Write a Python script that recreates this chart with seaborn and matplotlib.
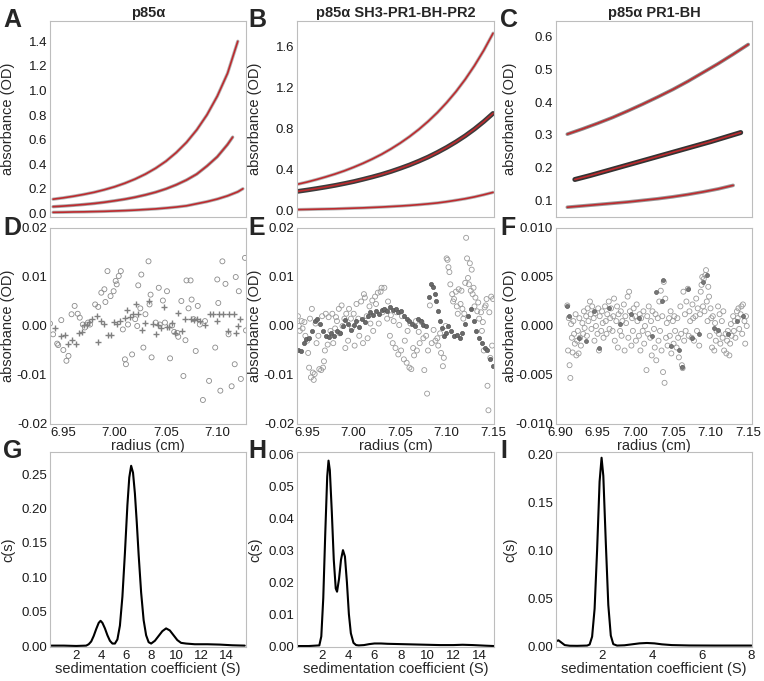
import matplotlib
matplotlib.use("Agg")
import matplotlib.pyplot as plt
from matplotlib.ticker import AutoMinorLocator, FormatStrFormatter
import seaborn as sns

# ---------------- top row: absorbance scans ----------------
# panel A (p85a)
r_a_top = [6.94, 6.95, 6.96, 6.97, 6.98, 6.99, 7.00, 7.01, 7.02, 7.03, 7.04, 7.05, 7.06, 7.07, 7.08, 7.09, 7.10, 7.11, 7.12]
a_top = [0.115, 0.126, 0.139, 0.154, 0.171, 0.192, 0.216, 0.245, 0.279, 0.319, 0.367, 0.424, 0.494, 0.577, 0.679, 0.802, 0.953, 1.139, 1.40]
r_a_mid = [6.94, 6.95, 6.96, 6.97, 6.98, 6.99, 7.00, 7.01, 7.02, 7.03, 7.04, 7.05, 7.06, 7.07, 7.08, 7.09, 7.10, 7.11, 7.115]
a_mid = [0.054, 0.059, 0.065, 0.072, 0.080, 0.090, 0.102, 0.115, 0.131, 0.150, 0.172, 0.199, 0.232, 0.271, 0.319, 0.385, 0.460, 0.560, 0.620]
r_a_bot = [6.94, 6.95, 6.96, 6.97, 6.98, 6.99, 7.00, 7.01, 7.02, 7.03, 7.04, 7.05, 7.06, 7.07, 7.08, 7.09, 7.10, 7.11, 7.12, 7.125]
a_bot = [0.008, 0.009, 0.011, 0.012, 0.014, 0.016, 0.019, 0.022, 0.026, 0.031, 0.036, 0.043, 0.051, 0.061, 0.078, 0.095, 0.116, 0.142, 0.175, 0.200]

# panel B (SH3-PR1-BH-PR2)
r_b = [6.94, 6.95, 6.96, 6.97, 6.98, 6.99, 7.00, 7.01, 7.02, 7.03, 7.04, 7.05, 7.06, 7.07, 7.08, 7.09, 7.10, 7.11, 7.12, 7.13, 7.14, 7.15]
b_top = [0.260, 0.281, 0.305, 0.331, 0.359, 0.390, 0.425, 0.463, 0.505, 0.551, 0.603, 0.660, 0.723, 0.793, 0.871, 0.957, 1.054, 1.161, 1.281, 1.415, 1.564, 1.731]
b_mid = [0.190, 0.203, 0.217, 0.232, 0.248, 0.266, 0.285, 0.307, 0.330, 0.355, 0.383, 0.414, 0.447, 0.484, 0.524, 0.569, 0.618, 0.672, 0.731, 0.797, 0.870, 0.950]
b_bot = [0.012, 0.014, 0.016, 0.018, 0.020, 0.023, 0.026, 0.029, 0.033, 0.037, 0.042, 0.047, 0.053, 0.060, 0.068, 0.077, 0.089, 0.103, 0.118, 0.136, 0.157, 0.180]

# panel C (PR1-BH)
r_c_top = [6.91, 6.93, 6.95, 6.97, 6.99, 7.01, 7.03, 7.05, 7.07, 7.09, 7.11, 7.13, 7.15]
c_top = [0.302, 0.318, 0.335, 0.353, 0.373, 0.394, 0.416, 0.439, 0.464, 0.491, 0.518, 0.547, 0.577]
r_c_mid = [6.92, 6.94, 6.96, 6.98, 7.00, 7.02, 7.04, 7.06, 7.08, 7.10, 7.12, 7.14]
c_mid = [0.163, 0.175, 0.188, 0.201, 0.214, 0.227, 0.240, 0.253, 0.266, 0.279, 0.293, 0.307]
r_c_bot = [6.91, 6.93, 6.95, 6.97, 6.99, 7.01, 7.03, 7.05, 7.07, 7.09, 7.11, 7.13]
c_bot = [0.078, 0.082, 0.086, 0.090, 0.094, 0.099, 0.104, 0.110, 0.117, 0.125, 0.134, 0.145]

# ---------------- middle row: residuals (radius, OD) ----------------
d_circles = [(6.937, 0.0005), (6.940, -0.0017), (6.944, -0.0036), (6.945, -0.0039), (6.948, 0.0012),
             (6.950, -0.0049), (6.953, -0.0071), (6.955, -0.0061), (6.958, 0.0024), (6.961, 0.0041),
             (6.964, 0.0025), (6.966, 0.0017), (6.969, 0.0003), (6.971, -0.0003), (6.974, 0.0007),
             (6.976, 0.0003), (6.981, 0.0044), (6.984, 0.0039), (6.987, 0.0068), (6.990, 0.0075),
             (6.991, 0.0049), (6.993, 0.0112), (6.996, 0.0061), (6.999, 0.0071), (7.001, 0.0092),
             (7.002, 0.0085), (7.004, 0.0102), (7.006, 0.0112), (7.008, -0.0007), (7.010, -0.0068),
             (7.011, -0.0078), (7.013, 0.0003), (7.017, -0.0058), (7.020, 0.0014), (7.022, 0.0),
             (7.023, 0.0083), (7.025, 0.0036), (7.026, 0.0105), (7.028, -0.0044), (7.030, 0.0024),
             (7.033, 0.0132), (7.034, 0.0044), (7.035, 0.0064), (7.036, -0.0064), (7.040, 0.0007),
             (7.043, 0.0078), (7.044, 0.0003), (7.047, 0.0052), (7.049, 0.0007), (7.051, 0.0071),
             (7.054, -0.0066), (7.056, 0.0001), (7.058, -0.0012), (7.061, -0.0014), (7.062, -0.0022),
             (7.065, 0.0051), (7.067, -0.0102), (7.069, -0.0029), (7.070, 0.0093), (7.072, 0.0036),
             (7.074, 0.0093), (7.075, 0.0054), (7.077, 0.0014), (7.079, -0.0051), (7.081, 0.0041),
             (7.083, 0.0003), (7.086, -0.0151), (7.088, 0.0010), (7.092, -0.0112), (7.098, -0.0044),
             (7.100, 0.0095), (7.101, 0.0047), (7.103, -0.0132), (7.105, 0.0132), (7.108, 0.0086),
             (7.111, -0.0017), (7.114, -0.0123), (7.117, -0.0078), (7.118, 0.0100), (7.121, 0.0071),
             (7.123, -0.0108), (7.127, 0.0139), (7.128, -0.0009)]
d_plus = [(6.942, -0.0005), (6.948, -0.0020), (6.952, -0.0018), (6.955, -0.0037), (6.958, -0.0029),
          (6.962, -0.0036), (6.965, -0.0015), (6.968, -0.0012), (6.970, 0.0003), (6.973, 0.0003),
          (6.975, 0.0008), (6.978, 0.0015), (6.983, 0.0020), (6.984, -0.0032), (6.987, 0.0010),
          (6.990, 0.0005), (6.994, -0.0018), (6.996, -0.0018), (6.999, 0.0009), (7.002, 0.0005),
          (7.005, 0.0010), (7.010, 0.0016), (7.012, 0.0032), (7.015, 0.0018), (7.018, 0.0025),
          (7.021, 0.0044), (7.023, 0.0025), (7.027, -0.0009), (7.030, 0.0006), (7.033, 0.0051),
          (7.037, 0.0005), (7.040, -0.0017), (7.042, 0.0003), (7.045, -0.0005), (7.048, 0.0039),
          (7.051, -0.0003), (7.053, -0.0003), (7.056, 0.0007), (7.059, -0.0014), (7.062, 0.0027),
          (7.066, -0.0010), (7.069, 0.0014), (7.074, 0.0014), (7.077, 0.0012), (7.080, 0.0014),
          (7.083, 0.0010), (7.088, 0.0003), (7.093, 0.0024), (7.096, 0.0024), (7.100, 0.0010),
          (7.102, 0.0024), (7.106, 0.0025), (7.110, -0.0010), (7.111, 0.0024), (7.116, 0.0024),
          (7.118, -0.0014), (7.120, 0.0), (7.122, 0.0014)]

e_dark = [(6.940, -0.0050), (6.943, -0.0052), (6.946, -0.0035), (6.949, -0.0027), (6.952, -0.0025),
          (6.955, -0.0010), (6.958, 0.0010), (6.961, 0.0015), (6.964, 0.0005), (6.967, -0.0010),
          (6.970, -0.0020), (6.973, -0.0022), (6.976, -0.0015), (6.979, -0.0020), (6.982, -0.0010),
          (6.985, -0.0015), (6.988, 0.0000), (6.991, 0.0012), (6.994, 0.0005), (6.997, -0.0008),
          (7.000, 0.0002), (7.003, 0.0010), (7.006, -0.0003), (7.009, 0.0015), (7.012, 0.0008),
          (7.015, 0.0020), (7.018, 0.0028), (7.021, 0.0022), (7.024, 0.0030), (7.027, 0.0025),
          (7.030, 0.0033), (7.033, 0.0035), (7.036, 0.0030), (7.039, 0.0038), (7.042, 0.0032),
          (7.045, 0.0035), (7.048, 0.0028), (7.051, 0.0030), (7.054, 0.0020), (7.057, 0.0015),
          (7.060, 0.0010), (7.063, 0.0005), (7.066, 0.0000), (7.069, 0.0015), (7.072, 0.0010),
          (7.075, 0.0002), (7.078, 0.0000), (7.081, 0.0060), (7.083, 0.0085), (7.085, 0.0080),
          (7.087, 0.0065), (7.089, 0.0050), (7.091, 0.0030), (7.093, 0.0010), (7.095, -0.0005),
          (7.097, -0.0020), (7.099, -0.0015), (7.102, 0.0000), (7.105, -0.0010), (7.108, -0.0020),
          (7.111, -0.0018), (7.114, -0.0025), (7.117, -0.0015), (7.120, 0.0005), (7.123, 0.0020),
          (7.126, 0.0035), (7.129, 0.0010), (7.132, -0.0010), (7.135, -0.0025), (7.138, -0.0035),
          (7.141, -0.0045), (7.144, -0.0050), (7.147, -0.0068), (7.150, -0.0082)]
e_open = [(6.940, 0.0020), (6.941, 0.0000), (6.942, -0.0010), (6.944, 0.0010), (6.945, -0.0005),
          (6.947, 0.0008), (6.948, -0.0020), (6.950, -0.0030), (6.951, -0.0055), (6.952, -0.0085),
          (6.953, 0.0015), (6.954, -0.0105), (6.955, 0.0035), (6.956, -0.0095), (6.957, -0.0110),
          (6.958, -0.0098), (6.959, 0.0005), (6.960, -0.0035), (6.962, -0.0020), (6.963, -0.0088),
          (6.965, -0.0090), (6.966, 0.0020), (6.967, -0.0085), (6.968, -0.0072), (6.969, -0.0050),
          (6.970, 0.0025), (6.972, -0.0038), (6.973, 0.0018), (6.975, -0.0010), (6.977, 0.0025),
          (6.978, -0.0035), (6.980, -0.0005), (6.981, 0.0018), (6.982, 0.0010), (6.984, 0.0035),
          (6.985, -0.0015), (6.987, 0.0042), (6.988, 0.0000), (6.990, 0.0015), (6.991, -0.0045),
          (6.992, 0.0025), (6.994, -0.0030), (6.995, 0.0035), (6.997, 0.0015), (6.998, -0.0005),
          (7.000, 0.0025), (7.001, -0.0040), (7.003, 0.0045), (7.005, 0.0015), (7.006, -0.0020),
          (7.008, 0.0050), (7.010, -0.0035), (7.011, 0.0065), (7.012, 0.0058), (7.014, 0.0020),
          (7.015, -0.0025), (7.017, 0.0040), (7.018, 0.0005), (7.020, 0.0052), (7.021, -0.0010),
          (7.023, 0.0060), (7.024, 0.0045), (7.026, 0.0068), (7.027, 0.0005), (7.029, 0.0070),
          (7.030, 0.0078), (7.031, 0.0028), (7.033, 0.0078), (7.034, 0.0032), (7.036, 0.0015),
          (7.037, 0.0050), (7.039, -0.0020), (7.040, 0.0022), (7.042, -0.0035), (7.043, 0.0010),
          (7.045, -0.0045), (7.046, 0.0028), (7.048, -0.0058), (7.049, 0.0002), (7.051, -0.0050),
          (7.052, 0.0020), (7.054, -0.0068), (7.055, -0.0030), (7.057, -0.0075), (7.058, -0.0010),
          (7.060, -0.0085), (7.061, 0.0005), (7.062, -0.0088), (7.064, -0.0045), (7.065, -0.0060),
          (7.067, 0.0010), (7.068, -0.0050), (7.070, -0.0012), (7.071, -0.0035), (7.073, 0.0008),
          (7.075, -0.0025), (7.076, -0.0090), (7.078, -0.0020), (7.079, -0.0138), (7.080, -0.0050),
          (7.082, 0.0042), (7.084, -0.0035), (7.086, -0.0008), (7.088, -0.0030), (7.090, -0.0025),
          (7.091, -0.0040), (7.093, -0.0015), (7.094, -0.0055), (7.096, -0.0082), (7.097, -0.0065),
          (7.099, 0.0000), (7.100, 0.0138), (7.101, 0.0135), (7.102, 0.0120), (7.103, 0.0110),
          (7.104, 0.0085), (7.106, 0.0065), (7.107, 0.0050), (7.108, 0.0055), (7.110, 0.0070),
          (7.111, 0.0040), (7.112, 0.0025), (7.113, 0.0075), (7.115, 0.0045), (7.116, 0.0072),
          (7.117, 0.0035), (7.118, 0.0015), (7.119, 0.0025), (7.120, 0.0088), (7.121, 0.0180),
          (7.122, 0.0138), (7.123, 0.0098), (7.124, 0.0085), (7.125, 0.0128), (7.126, 0.0072),
          (7.127, 0.0115), (7.128, 0.0065), (7.129, 0.0078), (7.130, 0.0040), (7.131, 0.0058),
          (7.133, 0.0030), (7.134, 0.0048), (7.135, 0.0015), (7.137, 0.0028), (7.138, -0.0010),
          (7.139, 0.0008), (7.140, -0.0050), (7.141, 0.0038), (7.142, 0.0042), (7.143, 0.0055),
          (7.144, -0.0122), (7.145, -0.0172), (7.146, 0.0028), (7.147, -0.0065), (7.148, 0.0060),
          (7.149, -0.0040), (7.150, 0.0055)]

f_open = [(6.910, 0.0021), (6.911, -0.0025), (6.912, 0.0008), (6.913, -0.0040), (6.914, -0.0053),
          (6.915, 0.0002), (6.916, -0.0012), (6.917, -0.0027), (6.918, 0.0005), (6.919, -0.0008),
          (6.920, -0.0018), (6.921, 0.0012), (6.922, -0.0030), (6.923, -0.0015), (6.924, -0.0005),
          (6.925, -0.0028), (6.926, 0.0008), (6.927, -0.0012), (6.928, -0.0020), (6.930, 0.0003),
          (6.931, -0.0008), (6.932, 0.0015), (6.933, -0.0002), (6.935, 0.0010), (6.936, -0.0010),
          (6.937, 0.0018), (6.938, 0.0005), (6.940, 0.0025), (6.941, 0.0012), (6.942, -0.0003),
          (6.943, 0.0020), (6.945, 0.0008), (6.946, -0.0015), (6.947, 0.0013), (6.948, 0.0000),
          (6.950, -0.0008), (6.951, 0.0018), (6.952, -0.0025), (6.953, 0.0010), (6.955, -0.0005),
          (6.956, 0.0015), (6.957, 0.0003), (6.958, -0.0012), (6.960, 0.0020), (6.961, 0.0005),
          (6.962, -0.0008), (6.963, 0.0012), (6.965, 0.0025), (6.966, -0.0003), (6.967, 0.0008),
          (6.968, 0.0018), (6.970, -0.0005), (6.971, 0.0010), (6.972, 0.0028), (6.973, -0.0015),
          (6.975, 0.0005), (6.976, 0.0020), (6.977, -0.0022), (6.978, 0.0012), (6.980, -0.0005),
          (6.981, 0.0015), (6.982, -0.0010), (6.983, 0.0005), (6.985, 0.0022), (6.986, -0.0025),
          (6.987, 0.0010), (6.988, 0.0003), (6.990, 0.0030), (6.991, -0.0012), (6.992, 0.0035),
          (6.993, 0.0015), (6.995, -0.0020), (6.996, 0.0008), (6.997, -0.0005), (6.998, 0.0018),
          (7.000, 0.0010), (7.001, -0.0015), (7.002, 0.0022), (7.003, 0.0005), (7.005, -0.0010),
          (7.006, 0.0012), (7.007, -0.0025), (7.008, 0.0008), (7.010, -0.0005), (7.011, 0.0015),
          (7.012, -0.0018), (7.013, 0.0000), (7.015, -0.0045), (7.016, 0.0010), (7.017, -0.0008),
          (7.018, 0.0020), (7.020, -0.0012), (7.021, 0.0005), (7.022, -0.0030), (7.023, 0.0015),
          (7.025, -0.0003), (7.026, -0.0022), (7.027, 0.0012), (7.028, -0.0035), (7.030, 0.0008),
          (7.031, -0.0015), (7.032, 0.0025), (7.033, -0.0005), (7.034, 0.0036), (7.035, -0.0025),
          (7.036, 0.0010), (7.037, -0.0047), (7.038, 0.0045), (7.039, -0.0058), (7.040, 0.0028),
          (7.041, -0.0012), (7.042, 0.0003), (7.043, -0.0020), (7.045, 0.0008), (7.046, -0.0010),
          (7.047, 0.0015), (7.048, -0.0028), (7.050, 0.0005), (7.051, -0.0018), (7.052, 0.0010),
          (7.053, -0.0005), (7.055, -0.0022), (7.056, 0.0008), (7.057, -0.0012), (7.058, -0.0032),
          (7.060, 0.0020), (7.061, -0.0008), (7.062, -0.0040), (7.063, -0.0043), (7.064, 0.0035),
          (7.065, -0.0015), (7.066, 0.0012), (7.067, -0.0005), (7.068, 0.0025), (7.070, 0.0038),
          (7.071, -0.0010), (7.072, 0.0015), (7.073, 0.0005), (7.075, -0.0012), (7.076, 0.0022),
          (7.077, 0.0008), (7.078, -0.0015), (7.080, 0.0010), (7.081, 0.0028), (7.082, -0.0005),
          (7.083, 0.0018), (7.085, -0.0020), (7.086, 0.0012), (7.087, 0.0035), (7.088, 0.0042),
          (7.089, 0.0050), (7.090, 0.0020), (7.091, 0.0048), (7.092, 0.0015), (7.093, 0.0052),
          (7.094, 0.0057), (7.095, 0.0025), (7.096, 0.0005), (7.097, 0.0040), (7.098, 0.0030),
          (7.099, -0.0010), (7.100, 0.0018), (7.101, 0.0008), (7.102, -0.0022), (7.103, 0.0010),
          (7.105, -0.0025), (7.106, 0.0003), (7.107, -0.0015), (7.108, -0.0005), (7.110, 0.0020),
          (7.111, -0.0008), (7.112, 0.0012), (7.113, -0.0018), (7.115, 0.0005), (7.116, -0.0012),
          (7.117, 0.0015), (7.118, -0.0025), (7.120, -0.0008), (7.121, -0.0028), (7.122, -0.0015),
          (7.123, -0.0005), (7.125, -0.0030), (7.126, -0.0018), (7.127, 0.0002), (7.128, -0.0010),
          (7.130, 0.0010), (7.131, -0.0005), (7.132, 0.0005), (7.133, -0.0012), (7.135, 0.0015),
          (7.136, 0.0008), (7.137, 0.0018), (7.138, -0.0003), (7.140, 0.0012), (7.141, 0.0020),
          (7.142, -0.0008), (7.143, 0.0022), (7.145, 0.0005), (7.146, -0.0018), (7.147, 0.0010),
          (7.148, 0.0000)]
f_dark = [(6.910, 0.0020), (6.912, 0.0010), (6.925, -0.0012), (6.935, -0.0015), (6.945, 0.0015),
          (6.952, -0.0022), (6.965, 0.0018), (6.980, 0.0002), (6.995, 0.0012), (7.005, 0.0008),
          (7.022, -0.0010), (7.027, 0.0035), (7.035, 0.0025), (7.037, 0.0047), (7.048, -0.0020),
          (7.058, -0.0025), (7.062, -0.0042), (7.070, 0.0038), (7.075, -0.0012), (7.085, -0.0008),
          (7.090, 0.0045), (7.095, 0.0052), (7.105, -0.0002), (7.110, -0.0004), (7.123, -0.0008),
          (7.135, 0.0005), (7.143, 0.0010)]

# ---------------- bottom row: c(s) distributions ----------------
s_g = [0.0, 1.0, 2.0, 2.8, 3.0, 3.2, 3.4, 3.6, 3.8, 3.95, 4.1, 4.3, 4.5, 4.7, 4.9, 5.1, 5.3, 5.5, 5.7, 5.9,
       6.1, 6.25, 6.4, 6.55, 6.7, 6.85, 7.0, 7.2, 7.4, 7.6, 7.8, 8.0, 8.3, 8.6, 8.9, 9.2, 9.5, 9.8, 10.1,
       10.4, 10.8, 11.5, 12.5, 13.5, 14.5, 15.5]
c_g = [0.001, 0.001, 0.0005, 0.001, 0.003, 0.007, 0.015, 0.025, 0.034, 0.037, 0.034, 0.026, 0.016, 0.008,
       0.004, 0.004, 0.010, 0.030, 0.072, 0.135, 0.205, 0.245, 0.262, 0.252, 0.222, 0.180, 0.133, 0.078,
       0.038, 0.016, 0.006, 0.004, 0.008, 0.015, 0.022, 0.026, 0.023, 0.016, 0.009, 0.005, 0.004, 0.003,
       0.003, 0.0025, 0.0015, 0.001]
s_h = [0.1, 1.0, 1.8, 1.95, 2.1, 2.25, 2.4, 2.5, 2.6, 2.75, 2.9, 3.05, 3.15, 3.3, 3.45, 3.6, 3.75, 3.9,
       4.05, 4.2, 4.4, 4.6, 4.8, 5.2, 5.6, 6.0, 6.5, 7.0, 8.0, 9.0, 10.0, 11.0, 12.0, 12.7, 13.5, 14.5, 15.1]
c_h = [0.0, 0.0, 0.0002, 0.003, 0.015, 0.035, 0.053, 0.058, 0.055, 0.042, 0.027, 0.018, 0.017, 0.021,
       0.027, 0.030, 0.028, 0.020, 0.010, 0.004, 0.001, 0.0003, 0.0002, 0.0003, 0.0006, 0.0008, 0.0008,
       0.0007, 0.0006, 0.0005, 0.0004, 0.0003, 0.0003, 0.0004, 0.0003, 0.0001, 0.0]
s_i = [0.15, 0.25, 0.35, 0.5, 0.7, 1.0, 1.4, 1.5, 1.6, 1.7, 1.8, 1.9, 1.98, 2.05, 2.15, 2.25, 2.35, 2.45,
       2.6, 2.9, 3.2, 3.5, 3.8, 4.1, 4.4, 4.8, 5.5, 6.5, 8.0]
c_i = [0.005, 0.006, 0.004, 0.001, 0.0003, 0.0002, 0.0005, 0.0016, 0.0098, 0.039, 0.100, 0.172, 0.197,
       0.178, 0.108, 0.043, 0.011, 0.002, 0.0005, 0.0008, 0.0018, 0.0028, 0.0032, 0.0028, 0.0018, 0.001,
       0.0006, 0.0005, 0.0005]

titles = ["p85α", "p85α SH3-PR1-BH-PR2", "p85α PR1-BH"]
letters = ["A", "B", "C", "D", "E", "F", "G", "H", "I"]

# tick values per panel
xt_d = [6.95, 7.00, 7.05, 7.10]
xt_e = [6.95, 7.00, 7.05, 7.10, 7.15]
xt_f = [6.90, 6.95, 7.00, 7.05, 7.10, 7.15]
xt_s = [2, 4, 6, 8, 10, 12, 14]
xt_i = [2, 4, 6, 8]
yt_a = [0.0, 0.2, 0.4, 0.6, 0.8, 1.0, 1.2, 1.4]
yt_b = [0.0, 0.4, 0.8, 1.2, 1.6]
yt_c = [0.1, 0.2, 0.3, 0.4, 0.5, 0.6]
yt_res = [-0.02, -0.01, 0.00, 0.01, 0.02]
yt_f = [-0.010, -0.005, 0.000, 0.005, 0.010]
yt_g = [0.00, 0.05, 0.10, 0.15, 0.20, 0.25]
yt_h = [0.00, 0.01, 0.02, 0.03, 0.04, 0.05, 0.06]
yt_i = [0.00, 0.05, 0.10, 0.15, 0.20]

sns.set_style("white")
plt.rcParams['font.family'] = ['Liberation Sans', 'DejaVu Sans']
plt.rcParams['axes.unicode_minus'] = False

W, H = 764, 681
fig = plt.figure(figsize=(W / 100, H / 100), dpi=100)

col_x = [(50, 196), (297, 197), (556, 196)]
row_y = [(21, 196), (228, 196), (452, 195)]
frame = '#bdbdbd'
red = '#bd2a2e'


def add_ax(c, r):
    x0, w = col_x[c]
    y0, h = row_y[r]
    return fig.add_axes([x0 / W, 1 - (y0 + h) / H, w / W, h / H])


def style(ax, xlim, ylim, xticks, yticks, xfmt, yfmt, show_x=True):
    ax.set_xlim(xlim)
    ax.set_ylim(ylim)
    ax.set_xticks(xticks)
    ax.set_yticks(yticks)
    ax.xaxis.set_minor_locator(AutoMinorLocator(2))
    ax.yaxis.set_minor_locator(AutoMinorLocator(2))
    ax.xaxis.set_major_formatter(FormatStrFormatter(xfmt))
    ax.yaxis.set_major_formatter(FormatStrFormatter(yfmt))
    for sp in ax.spines.values():
        sp.set_color(frame)
        sp.set_linewidth(0.8)
    ax.tick_params(which='both', direction='in', color=frame, labelsize=9.5,
                   labelcolor='#1a1a1a', pad=2)
    ax.tick_params(which='major', length=4)
    ax.tick_params(which='minor', length=2)
    if not show_x:
        ax.tick_params(axis='x', labelbottom=False)
    ax.set_xlabel('')
    ax.set_ylabel('')


def scan(ax, r, v, band, band_w):
    # dense data points drawn as a grey band, fitted curve in red on top
    sns.lineplot(x=r, y=v, ax=ax, color=band, lw=band_w, estimator=None, sort=False)
    sns.lineplot(x=r, y=v, ax=ax, color=red, lw=1.2, estimator=None, sort=False)


def unzip(pairs):
    return [p[0] for p in pairs], [p[1] for p in pairs]


ylab_x = [-0.179, -0.178, -0.199]

# ---- top row ----
ax = add_ax(0, 0)
scan(ax, r_a_top, a_top, '#b5b5b5', 2.4)
scan(ax, r_a_mid, a_mid, '#a8a8a8', 2.4)
scan(ax, r_a_bot, a_bot, '#b5b5b5', 2.4)
style(ax, (6.937, 7.128), (-0.03, 1.565), xt_d, yt_a, '%.2f', '%.1f', False)

ax = add_ax(1, 0)
scan(ax, r_b, b_top, '#b8b8b8', 2.4)
scan(ax, r_b, b_mid, '#3c3c3c', 3.4)
scan(ax, r_b, b_bot, '#b8b8b8', 2.4)
style(ax, (6.939, 7.151), (-0.06, 1.85), xt_e, yt_b, '%.2f', '%.1f', False)

ax = add_ax(2, 0)
scan(ax, r_c_top, c_top, '#8c8c8c', 2.6)
scan(ax, r_c_mid, c_mid, '#333333', 3.6)
scan(ax, r_c_bot, c_bot, '#9a9a9a', 2.6)
style(ax, (6.895, 7.155), (0.048, 0.649), xt_f, yt_c, '%.2f', '%.1f', False)

top_axes = fig.axes[:3]
for i, ax in enumerate(top_axes):
    ax.set_title(titles[i], fontsize=10.5, fontweight='bold', pad=3)
    ax.set_ylabel('absorbance (OD)', fontsize=10.5)
    ax.yaxis.set_label_coords(ylab_x[i], 0.5)

# ---- residual row ----
open_kw = dict(facecolor='none', s=13, linewidth=0.6)
ax = add_ax(0, 1)
x, y = unzip(d_circles)
sns.scatterplot(x=x, y=y, ax=ax, marker='o', edgecolor='#8a8a8a', **open_kw)
x, y = unzip(d_plus)
sns.scatterplot(x=x, y=y, ax=ax, marker='+', color='#808080', edgecolor=None, s=24, linewidth=1.0)
style(ax, (6.937, 7.128), (-0.02, 0.02), xt_d, yt_res, '%.2f', '%.2f')

ax = add_ax(1, 1)
x, y = unzip(e_open)
sns.scatterplot(x=x, y=y, ax=ax, marker='o', edgecolor='#9a9a9a', **open_kw)
x, y = unzip(e_dark)
sns.scatterplot(x=x, y=y, ax=ax, marker='o', color='#6a6a6a', edgecolor='#555555', s=9, linewidth=0.5)
style(ax, (6.939, 7.151), (-0.02, 0.02), xt_e, yt_res, '%.2f', '%.2f')

ax = add_ax(2, 1)
x, y = unzip(f_open)
sns.scatterplot(x=x, y=y, ax=ax, marker='o', edgecolor='#9a9a9a', **open_kw)
x, y = unzip(f_dark)
sns.scatterplot(x=x, y=y, ax=ax, marker='o', color='#777777', edgecolor='#5a5a5a', s=8, linewidth=0.5)
style(ax, (6.895, 7.155), (-0.010, 0.010), xt_f, yt_f, '%.2f', '%.3f')

mid_axes = fig.axes[3:6]
for i, ax in enumerate(mid_axes):
    ax.set_ylabel('absorbance (OD)', fontsize=10.5)
    ax.yaxis.set_label_coords(ylab_x[i], 0.5)
    ax.set_xlabel('radius (cm)', fontsize=10.5, labelpad=0)

# ---- c(s) row ----
ax = add_ax(0, 2)
sns.lineplot(x=s_g, y=c_g, ax=ax, color='black', lw=1.5, estimator=None, sort=False)
style(ax, (-0.1, 15.6), (-0.001, 0.282), xt_s, yt_g, '%d', '%.2f')

ax = add_ax(1, 2)
sns.lineplot(x=s_h, y=c_h, ax=ax, color='black', lw=1.5, estimator=None, sort=False)
style(ax, (0.1, 15.1), (-0.0003, 0.0607), xt_s, yt_h, '%d', '%.2f')

ax = add_ax(2, 2)
sns.lineplot(x=s_i, y=c_i, ax=ax, color='black', lw=1.5, estimator=None, sort=False)
style(ax, (0.15, 8.02), (-0.001, 0.203), xt_i, yt_i, '%d', '%.2f')

bot_axes = fig.axes[6:9]
for i, ax in enumerate(bot_axes):
    ax.set_ylabel('c(s)', fontsize=10.5)
    ax.yaxis.set_label_coords(ylab_x[i], 0.5)
    ax.set_xlabel('sedimentation coefficient (S)', fontsize=10.5, labelpad=0)

# ---- panel letters ----
letter_x = [3, 248, 500]
letter_y = [8, 216, 439]
for k, letter in enumerate(letters):
    fig.text(letter_x[k % 3] / W, 1 - letter_y[k // 3] / H, letter, fontsize=18,
             fontweight='bold', va='top', ha='left')

fig.savefig('out.png', dpi=100)
